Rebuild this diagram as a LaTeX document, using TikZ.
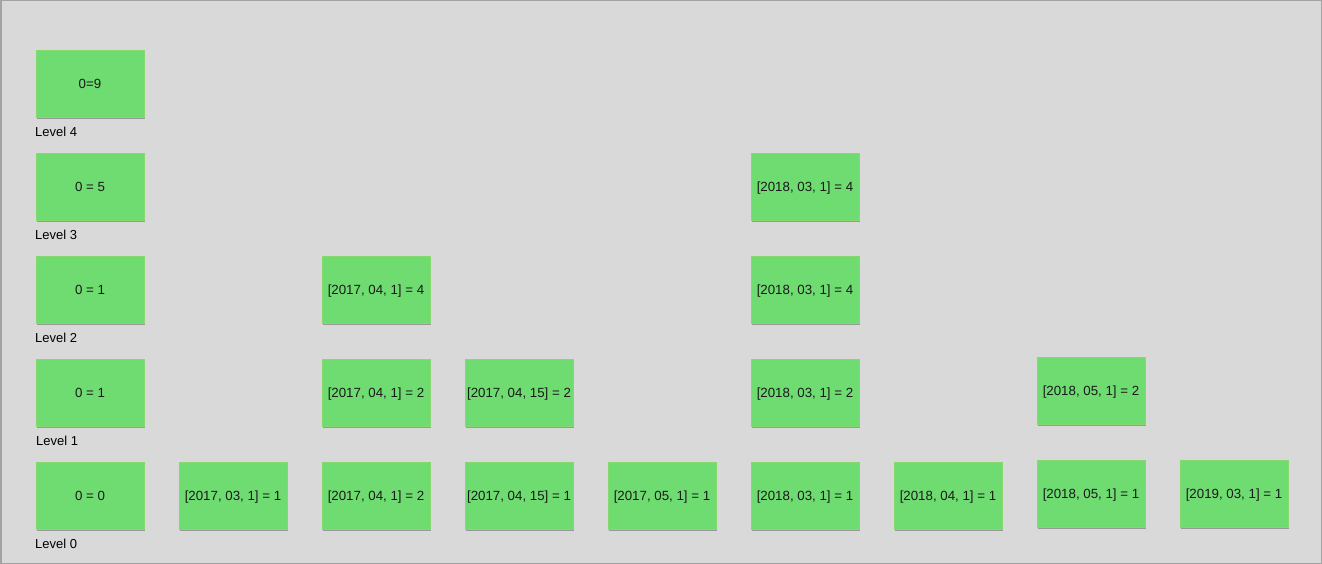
\documentclass[tikz,border=0pt]{standalone}
\usepackage{fontspec}
\setmainfont{Liberation Sans}
\usetikzlibrary{shadows}
\definecolor{bg}{HTML}{D9D9D9}
\definecolor{frame}{HTML}{A3A3A3}
\definecolor{boxfill}{HTML}{6FDC72}
\definecolor{boxline}{HTML}{86D86F}
\tikzset{
  cell/.style={rectangle, minimum width=108pt, minimum height=67pt, inner sep=0pt,
    fill=boxfill, draw=boxline, line width=0.8pt,
    drop shadow={shadow xshift=1.2pt, shadow yshift=-1.8pt, opacity=0.45, fill=black!70},
    font=\fontsize{13.3pt}{15pt}\selectfont, text=black!90, text depth=0pt, yshift=0pt},
  lvl/.style={anchor=west, inner sep=0pt, font=\fontsize{13pt}{15pt}\selectfont, text=black}
}
\begin{document}
\begin{tikzpicture}[x=1pt,y=-1pt]
\path[fill=bg, draw=frame, line width=1.5pt] (0.75,0.75) rectangle (1321.25,563.25);
\useasboundingbox (0,0) rectangle (1322,564);
% level 4
\node[cell] (l4a) at (90,84) {0=9};
\node[lvl] (t4) at (35,132) {Level 4};
% level 3
\node[cell] (l3a) at (90,187) {0 = 5};
\node[cell] (l3f) at (805,187) {[2018, 03, 1] = 4};
\node[lvl] (t3) at (35,235) {Level 3};
% level 2
\node[cell] (l2a) at (90,290) {0 = 1};
\node[cell] (l2c) at (376,290) {[2017, 04, 1] = 4};
\node[cell] (l2f) at (805,290) {[2018, 03, 1] = 4};
\node[lvl] (t2) at (35,338) {Level 2};
% level 1
\node[cell] (l1a) at (90,393) {0 = 1};
\node[cell] (l1c) at (376,393) {[2017, 04, 1] = 2};
\node[cell] (l1d) at (519,393) {[2017, 04, 15] = 2};
\node[cell] (l1f) at (805,393) {[2018, 03, 1] = 2};
\node[cell] (l1h) at (1091,391) {[2018, 05, 1] = 2};
\node[lvl] (t1) at (36,441) {Level 1};
% level 0
\node[cell] (l0a) at (90,496) {0 = 0};
\node[cell] (l0b) at (233,496) {[2017, 03, 1] = 1};
\node[cell] (l0c) at (376,496) {[2017, 04, 1] = 2};
\node[cell] (l0d) at (519,496) {[2017, 04, 15] = 1};
\node[cell] (l0e) at (662,496) {[2017, 05, 1] = 1};
\node[cell] (l0f) at (805,496) {[2018, 03, 1] = 1};
\node[cell] (l0g) at (948,496) {[2018, 04, 1] = 1};
\node[cell] (l0h) at (1091,494) {[2018, 05, 1] = 1};
\node[cell] (l0i) at (1234,494) {[2019, 03, 1] = 1};
\node[lvl] (t0) at (35,544) {Level 0};
\end{tikzpicture}
\end{document}
